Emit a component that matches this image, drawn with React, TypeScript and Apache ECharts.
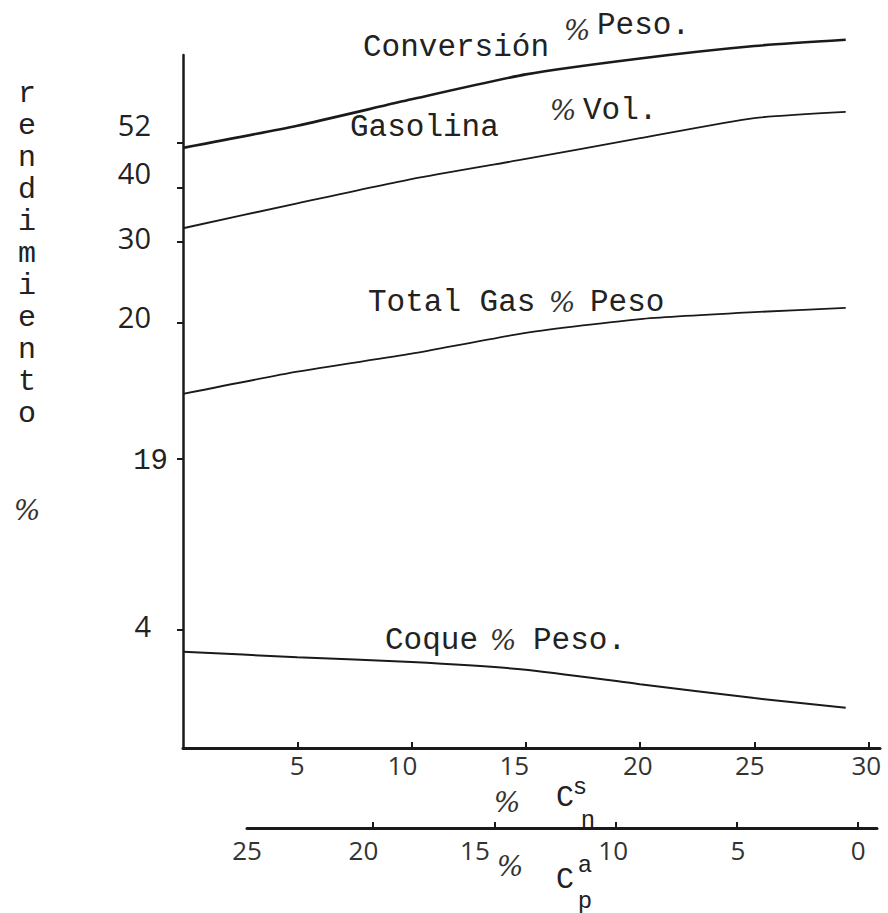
import React, { useEffect, useRef } from "react";
import * as echarts from "echarts";

// Horizontal position: % C_n^s (first lower axis)
const xValues = [0, 5, 10, 15, 20, 25, 29];
// Curves, read in the chart's own linear vertical axis units (0 = bottom, 100 = top of the axis line)
const conversion = [86.6, 89.8, 93.6, 97.2, 99.5, 101.3, 102.2];
const gasolina = [75.0, 78.6, 82.1, 85.0, 88.0, 90.9, 91.8];
const totalGas = [51.1, 54.3, 56.9, 59.9, 61.9, 62.9, 63.5];
const coque = [13.9, 13.1, 12.4, 11.3, 9.2, 7.2, 5.8];

// Y axis tick labels as typed on the original, and where they sit on the axis
const yTickLabels = ["52", "40", "30", "20", "19", "4"];
const yLabelValues = [89.9, 83.1, 73.7, 62.2, 41.3, 17.7];
const yTickValues = [87.4, 80.8, 73.0, 61.3, 41.7, 17.0];

// First x axis: % C_n^s
const xTicksSn = [5, 10, 15, 20, 25, 30];
const xLabelsSn = ["5", "10", "15", "20", "25", "30"];
const xLabelPosSn = [5.0, 9.6, 14.5, 19.9, 24.8, 29.9];

// Second x axis: % C_p^a (runs right to left)
const xTicksPa = [20, 15, 10, 5, 0];
const xLabelsPa = ["25", "20", "15", "10", "5", "0"];
const xLabelPosPa = [25.2, 20.4, 15.8, 10.1, 4.95, 0];

const TYPE = "'Liberation Mono', 'DejaVu Sans Mono', monospace";
const DIGIT = "'Open Sans', 'DejaVu Sans', sans-serif";
const PCT = "'DejaVu Serif', serif";

const nearest = (arr: number[], v: number) => {
  let best = 0;
  for (let i = 0; i < arr.length; i++) {
    if (Math.abs(arr[i] - v) < Math.abs(arr[best] - v)) best = i;
  }
  return best;
};

export default function App() {
  const ref = useRef<HTMLDivElement>(null);
  useEffect(() => {
    if (!ref.current) return;
    const chart = echarts.init(ref.current, null, { renderer: "svg" });
    const ink = "#1a1a1a";
    const lineSeries = (name: string, vals: number[], w: number) => ({
      name,
      type: "line",
      xAxisIndex: 0,
      yAxisIndex: 0,
      data: xValues.map((x, i) => [x, vals[i]]),
      showSymbol: false,
      symbol: "none",
      smooth: 0.2,
      clip: false,
      lineStyle: { color: ink, width: w },
    });
    const txt = (text: string, x: number, y: number, size: number, extra: any = {}) => ({
      type: "text",
      x,
      y,
      style: {
        text,
        fill: extra.fill || "#222",
        font: `${extra.style || "normal"} ${size}px ${extra.family || TYPE}`,
        textAlign: extra.align || "left",
        textVerticalAlign: "middle",
      },
    });
    const pct = (x: number, y: number) =>
      txt("%", x, y, 28, { family: PCT, style: "italic", align: "center", fill: "#333" });

    chart.setOption({
      animation: false,
      backgroundColor: "#ffffff",
      grid: [
        { left: 183, right: 8, top: 55, bottom: 165 },
        { left: 247, right: 11, top: 820, bottom: 85 },
      ],
      xAxis: [
        {
          gridIndex: 0,
          type: "value",
          min: 0,
          max: 30.5,
          axisLine: { show: true, lineStyle: { color: ink, width: 3 } },
          axisTick: { show: true, inside: true, length: 6, customValues: xTicksSn, lineStyle: { color: ink, width: 2 } },
          axisLabel: {
            customValues: xLabelPosSn,
            margin: 4,
            fontFamily: DIGIT,
            fontSize: 26,
            color: "#333",
            formatter: (v: number) => xLabelsSn[nearest(xLabelPosSn, v)],
          },
          splitLine: { show: false },
        },
        {
          gridIndex: 1,
          type: "value",
          inverse: true,
          min: -0.78,
          max: 25.2,
          position: "bottom",
          axisLine: { show: true, lineStyle: { color: ink, width: 3 } },
          axisTick: { show: true, inside: true, length: 6, customValues: xTicksPa, lineStyle: { color: ink, width: 2 } },
          axisLabel: {
            customValues: xLabelPosPa,
            margin: 9,
            fontFamily: DIGIT,
            fontSize: 26,
            color: "#333",
            showMinLabel: true,
            showMaxLabel: true,
            formatter: (v: number) => xLabelsPa[nearest(xLabelPosPa, v)],
          },
          splitLine: { show: false },
        },
      ],
      yAxis: [
        {
          gridIndex: 0,
          type: "value",
          min: 0,
          max: 100,
          axisLine: { show: true, lineStyle: { color: ink, width: 2.5 } },
          axisTick: { show: true, length: 6, customValues: yTickValues, lineStyle: { color: ink, width: 2 } },
          axisLabel: {
            customValues: yLabelValues,
            margin: 15,
            fontFamily: DIGIT,
            fontSize: 29,
            color: "#222",
            formatter: (v: number) => {
              const t = yTickLabels[nearest(yLabelValues, v)];
              return t === "19" ? `{m|${t}}` : `{n|${t}}`;
            },
            rich: {
              n: { fontFamily: DIGIT, fontSize: 29, color: "#222", padding: [0, 17, 0, 0] },
              m: { fontFamily: TYPE, fontSize: 29, color: "#222" },
            },
          },
          splitLine: { show: false },
        },
        { gridIndex: 1, type: "value", min: 0, max: 1, show: false },
      ],
      series: [
        lineSeries("Conversión % Peso", conversion, 2.6),
        lineSeries("Gasolina % Vol.", gasolina, 1.8),
        lineSeries("Total Gas % Peso", totalGas, 1.8),
        lineSeries("Coque % Peso", coque, 2),
      ],
      graphic: [
        txt("Conversión", 363, 47, 31),
        pct(577, 30),
        txt("Peso.", 597, 25, 31),
        txt("Gasolina", 350, 127, 31),
        pct(563, 110),
        txt("Vol.", 583, 110, 31),
        txt("Total Gas", 368, 302, 31),
        pct(562, 302),
        txt("Peso", 590, 302, 31),
        txt("Coque", 385, 640, 31),
        pct(503, 640),
        txt("Peso.", 533, 640, 31),
        {
          type: "text",
          x: 27,
          y: 78,
          style: {
            text: "r\ne\nn\nd\ni\nm\ni\ne\nn\nt\no",
            fill: "#222",
            font: `normal 30px ${TYPE}`,
            textAlign: "center",
            lineHeight: 32,
          },
        },
        pct(27, 510),
        pct(507, 802),
        txt("C", 565, 798, 30, { align: "center" }),
        txt("s", 580, 787, 24, { align: "center" }),
        txt("n", 588, 820, 24, { align: "center" }),
        pct(510, 866),
        txt("C", 565, 880, 30, { align: "center" }),
        txt("a", 585, 865, 24, { align: "center" }),
        txt("p", 585, 901, 24, { align: "center" }),
      ],
    });
    return () => chart.dispose();
  }, []);
  return (
    <div
      ref={ref}
      style={{ position: "absolute", left: 0, top: 0, width: 888, height: 913, background: "#fff" }}
    />
  );
}
